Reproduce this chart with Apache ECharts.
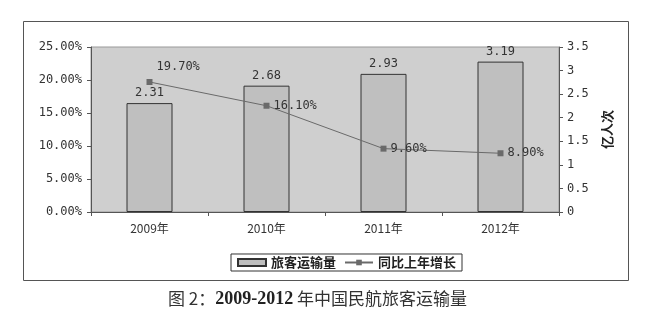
<!DOCTYPE html>
<html>
<head>
<meta charset="utf-8">
<script src="https://cdn.jsdelivr.net/npm/echarts@6/dist/echarts.min.js"></script>
<style>
html,body{margin:0;padding:0;background:#fff;}
#chart{width:652px;height:323px;}
</style>
</head>
<body>
<div id="chart"></div>
<script>
// 2009-2012 civil aviation passenger volume and YoY growth
const years = ['2009年', '2010年', '2011年', '2012年'];
const passengers = [2.31, 2.68, 2.93, 3.19];   // 亿人次
const growth = [19.70, 16.10, 9.60, 8.90];     // %
const leftTicks = [0, 5, 10, 15, 20, 25];
const rightMax = 3.5;

const mono = '"DejaVu Sans Mono", "Noto Sans CJK SC", monospace';
const cjk = '"Noto Sans CJK SC", sans-serif';

const chart = echarts.init(document.getElementById('chart'), null, {renderer: 'canvas'});

chart.setOption({
  animation: false,
  backgroundColor: '#fff',
  title: {
    text: '{a|图 2：}{b|2009-2012}{c| 年中国民航旅客运输量}',
    left: 163,
    top: 285,
    textStyle: {
      fontWeight: 'normal',
      rich: {
        a: {fontFamily: '"Noto Sans CJK SC"', fontWeight: 'normal', fontSize: 17, color: '#333'},
        b: {fontFamily: '"Liberation Serif", serif', fontWeight: 'bold', fontSize: 18, color: '#222'},
        c: {fontFamily: '"Noto Sans CJK SC"', fontWeight: 'normal', fontSize: 17, color: '#333'}
      }
    }
  },
  graphic: [{
    type: 'rect',
    shape: {x: 23.5, y: 21.5, width: 605, height: 259},
    style: {fill: 'none', stroke: '#555', lineWidth: 1},
    z: -1
  }],
  legend: {
    bottom: 52,
    left: 231,
    itemGap: 8,
    itemWidth: 28,
    itemHeight: 7,
    padding: [2, 6, 2, 6],
    borderColor: '#333',
    borderWidth: 1,
    textStyle: {fontFamily: cjk, fontWeight: 'bold', fontSize: 13, color: '#222'},
    data: [
      {name: '旅客运输量', icon: 'rect'},
      {name: '同比上年增长'}
    ]
  },
  grid: {
    left: 91, right: 93, top: 47, bottom: 111,
    show: true,
    backgroundColor: '#cfcfcf',
    borderColor: '#999',
    borderWidth: 1
  },
  xAxis: {
    type: 'category',
    data: years,
    boundaryGap: true,
    axisLine: {lineStyle: {color: '#555'}},
    axisTick: {show: true, inside: false, length: 4, lineStyle: {color: '#555'}},
    axisLabel: {fontFamily: cjk, fontSize: 12, color: '#333', margin: 10}
  },
  yAxis: [{
    type: 'value',
    min: leftTicks[0],
    max: leftTicks[leftTicks.length - 1],
    interval: 5,
    axisLine: {show: true, lineStyle: {color: '#555'}},
    axisTick: {show: true, length: 4, lineStyle: {color: '#555'}},
    splitLine: {show: false},
    axisLabel: {
      fontFamily: mono, fontSize: 12, color: '#333', margin: 9,
      formatter: v => v.toFixed(2) + '%'
    }
  }, {
    type: 'value',
    min: 0,
    max: rightMax,
    interval: 0.5,
    position: 'right',
    name: '亿人次',
    nameLocation: 'middle',
    nameRotate: 90,
    nameGap: 42,
    nameTextStyle: {fontFamily: cjk, fontWeight: 'bold', fontSize: 13, color: '#222'},
    axisLine: {show: true, lineStyle: {color: '#555'}},
    axisTick: {show: true, length: 4, lineStyle: {color: '#555'}},
    splitLine: {show: false},
    axisLabel: {fontFamily: mono, fontSize: 12, color: '#333', margin: 8}
  }],
  series: [{
    name: '旅客运输量',
    type: 'bar',
    yAxisIndex: 1,
    data: passengers,
    barWidth: 46,
    itemStyle: {color: '#bfbfbf', borderColor: '#333', borderWidth: 1},
    label: {
      show: true, position: 'top', distance: 4,
      fontFamily: mono, fontSize: 12, color: '#333',
      formatter: p => p.value.toFixed(2)
    }
  }, {
    name: '同比上年增长',
    type: 'line',
    yAxisIndex: 0,
    data: growth.map((v, i) => i === 0
      ? {value: v, label: {position: 'right', offset: [0, -15]}}
      : {value: v}),
    symbol: 'rect',
    symbolSize: 6,
    lineStyle: {color: '#6a6a6a', width: 1},
    itemStyle: {color: '#6a6a6a'},
    label: {
      show: true, position: 'right', distance: 4,
      fontFamily: mono, fontSize: 12, color: '#333',
      formatter: p => p.value.toFixed(2) + '%'
    }
  }]
});
</script>
</body>
</html>
